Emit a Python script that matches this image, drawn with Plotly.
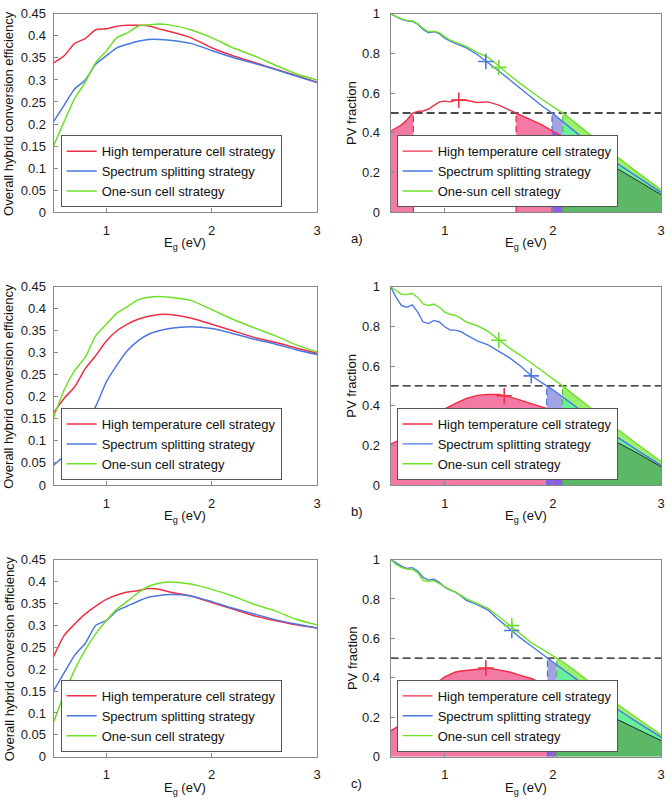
import numpy as np
import plotly.graph_objects as go

# ---------------- data ----------------
eg_eff = [0.5, 0.6, 0.7, 0.8, 0.9, 1.0, 1.1, 1.2, 1.3, 1.4, 1.5, 1.6, 1.8, 2.0, 2.2, 2.4, 2.6, 2.8, 3.0]

eff_a_ht = [0.339, 0.355, 0.383, 0.394, 0.414, 0.416, 0.422, 0.424, 0.424, 0.423, 0.416, 0.41, 0.396, 0.373, 0.355, 0.34, 0.325, 0.31, 0.295]
eff_a_ss = [0.206, 0.243, 0.28, 0.3, 0.336, 0.355, 0.373, 0.381, 0.388, 0.392, 0.392, 0.39, 0.383, 0.367, 0.351, 0.338, 0.324, 0.309, 0.294]
eff_a_os = [0.151, 0.206, 0.258, 0.295, 0.34, 0.366, 0.396, 0.407, 0.422, 0.425, 0.427, 0.425, 0.414, 0.396, 0.373, 0.355, 0.334, 0.314, 0.3]

eff_b_ht = [0.164, 0.197, 0.223, 0.264, 0.294, 0.327, 0.35, 0.365, 0.376, 0.383, 0.387, 0.387, 0.379, 0.365, 0.35, 0.335, 0.324, 0.311, 0.299]
eff_b_ss = [0.045, 0.067, 0.104, 0.141, 0.179, 0.234, 0.272, 0.305, 0.327, 0.342, 0.35, 0.355, 0.359, 0.355, 0.344, 0.331, 0.32, 0.307, 0.296]
eff_b_os = [0.153, 0.216, 0.26, 0.29, 0.339, 0.365, 0.39, 0.405, 0.42, 0.426, 0.428, 0.426, 0.419, 0.398, 0.376, 0.357, 0.339, 0.318, 0.302]

eff_c_ht = [0.229, 0.277, 0.303, 0.326, 0.344, 0.359, 0.369, 0.376, 0.379, 0.384, 0.382, 0.376, 0.367, 0.352, 0.337, 0.322, 0.311, 0.301, 0.294]
eff_c_ss = [0.151, 0.192, 0.232, 0.259, 0.3, 0.311, 0.333, 0.344, 0.355, 0.364, 0.368, 0.37, 0.367, 0.354, 0.339, 0.326, 0.313, 0.303, 0.294]
eff_c_os = [0.08, 0.143, 0.199, 0.244, 0.281, 0.311, 0.337, 0.355, 0.374, 0.389, 0.396, 0.399, 0.394, 0.382, 0.367, 0.348, 0.333, 0.314, 0.301]

eg_pv = [0.5, 0.55, 0.6, 0.65, 0.7, 0.75, 0.8, 0.85, 0.9, 0.95, 1.0, 1.05, 1.1, 1.15, 1.2,
         1.3, 1.4, 1.5, 1.6, 1.7, 1.8, 1.9, 2.0, 2.1, 2.2, 2.4, 2.6, 2.8, 3.0]

pv_a_ht = [0.408, 0.424, 0.44, 0.465, 0.498, 0.508, 0.51, 0.52, 0.54, 0.556, 0.56, 0.556, 0.564, 0.566, 0.564,
           0.553, 0.556, 0.54, 0.515, 0.49, 0.465, 0.44, 0.407, 0.38, 0.348, 0.284, 0.22, 0.156, 0.088]
pv_a_ss = [1.0, 0.985, 0.972, 0.965, 0.962, 0.948, 0.922, 0.905, 0.91, 0.9, 0.878, 0.862, 0.85, 0.84, 0.828,
           0.795, 0.755, 0.712, 0.668, 0.625, 0.58, 0.535, 0.497, 0.452, 0.408, 0.32, 0.243, 0.172, 0.1]
pv_a_os = [1.0, 0.986, 0.975, 0.967, 0.965, 0.95, 0.926, 0.91, 0.913, 0.905, 0.884, 0.868, 0.857, 0.848, 0.836,
           0.805, 0.782, 0.737, 0.69, 0.648, 0.607, 0.568, 0.532, 0.497, 0.454, 0.365, 0.276, 0.193, 0.112]

pv_b_ht = [0.206, 0.218, 0.23, 0.242, 0.255, 0.28, 0.304, 0.33, 0.354, 0.37, 0.382, 0.397, 0.411, 0.424, 0.436,
           0.452, 0.457, 0.456, 0.444, 0.428, 0.411, 0.395, 0.378, 0.358, 0.33, 0.272, 0.215, 0.155, 0.092]
pv_b_ss = [1.0, 0.946, 0.905, 0.896, 0.908, 0.872, 0.822, 0.814, 0.83, 0.822, 0.798, 0.781, 0.781, 0.773, 0.757,
           0.727, 0.707, 0.674, 0.641, 0.6, 0.551, 0.515, 0.48, 0.44, 0.4, 0.318, 0.24, 0.168, 0.1]
pv_b_os = [1.0, 0.98, 0.962, 0.96, 0.967, 0.946, 0.913, 0.905, 0.913, 0.896, 0.872, 0.86, 0.855, 0.84, 0.822,
           0.803, 0.776, 0.732, 0.69, 0.654, 0.617, 0.576, 0.535, 0.496, 0.452, 0.365, 0.28, 0.198, 0.118]

pv_c_ht = [0.132, 0.148, 0.165, 0.186, 0.207, 0.24, 0.273, 0.306, 0.339, 0.385, 0.405, 0.418, 0.43, 0.435, 0.438,
           0.441, 0.449, 0.441, 0.43, 0.413, 0.397, 0.372, 0.345, 0.318, 0.293, 0.24, 0.188, 0.135, 0.082]
pv_c_ss = [1.0, 0.982, 0.967, 0.955, 0.959, 0.942, 0.909, 0.896, 0.9, 0.884, 0.86, 0.845, 0.835, 0.815, 0.793,
           0.772, 0.744, 0.694, 0.648, 0.603, 0.562, 0.52, 0.48, 0.44, 0.4, 0.318, 0.24, 0.168, 0.1]
pv_c_os = [1.0, 0.975, 0.959, 0.952, 0.95, 0.934, 0.893, 0.89, 0.893, 0.878, 0.86, 0.848, 0.835, 0.82, 0.802,
           0.777, 0.752, 0.711, 0.668, 0.622, 0.579, 0.546, 0.512, 0.478, 0.438, 0.35, 0.265, 0.188, 0.112]

# optimum markers (ht, ss, os)
opt_a_eg = [1.13, 1.38, 1.5]
opt_a_pv = [0.565, 0.76, 0.73]
opt_b_eg = [1.55, 1.8, 1.5]
opt_b_pv = [0.45, 0.55, 0.73]
opt_c_eg = [1.38, 1.62, 1.62]
opt_c_pv = [0.45, 0.64, 0.665]

pv_threshold = 0.5

names = ["High temperature cell strategy", "Spectrum splitting strategy", "One-sun cell strategy"]
eff_ticks = [0, 0.05, 0.1, 0.15, 0.2, 0.25, 0.3, 0.35, 0.4, 0.45]
eff_ticktext = ["0", "0.05", "0.1", "0.15", "0.2", "0.25", "0.3", "0.35", "0.4", "0.45"]
pv_ticks = [0, 0.2, 0.4, 0.6, 0.8, 1]
pv_ticktext = ["0", "0.2", "0.4", "0.6", "0.8", "1"]
eg_ticks = [1, 2, 3]
panel_labels = ["a)", "b)", "c)"]

# ---------------- style ----------------
FONT = "Liberation Sans, Arial, sans-serif"
W, H = 672, 808
C_RED = "#ee2f45"
C_BLUE = "#4a78e0"
C_GREEN = "#6fe02a"
C_AX = "#8a8a8a"
F_PINK = "#f37aa4"
F_PURPLE = "#8c5cf0"
F_LAV = "#a3a3e3"
F_DGREEN = "#5cb866"
F_CGREEN = "#66f09a"
F_LGREEN = "#9cf070"

LEFT = (54, 319)
RIGHT = (393, 665)
ROWS = [(7, 209), (285, 487), (563, 764)]


def dom_x(a, b):
    return [a / W, b / W]


def dom_y(top, bot):
    return [1 - bot / H, 1 - top / H]


def crossings(x, y, level):
    out = []
    for i in range(len(x) - 1):
        y0, y1 = y[i] - level, y[i + 1] - level
        if y0 == 0:
            out.append(x[i])
        elif y0 * y1 < 0:
            out.append(x[i] + (x[i + 1] - x[i]) * (-y0) / (y1 - y0))
    return out


def seg(x, y, a, b):
    xs = [a] + [v for v in x if a < v < b] + [b]
    ys = list(np.interp(xs, x, y))
    return xs, ys


fig = go.Figure()
layout = {}
annotations = []

eff_sets = [(eff_a_ht, eff_a_ss, eff_a_os), (eff_b_ht, eff_b_ss, eff_b_os), (eff_c_ht, eff_c_ss, eff_c_os)]
pv_sets = [(pv_a_ht, pv_a_ss, pv_a_os), (pv_b_ht, pv_b_ss, pv_b_os), (pv_c_ht, pv_c_ss, pv_c_os)]
opt_sets = [(opt_a_eg, opt_a_pv), (opt_b_eg, opt_b_pv), (opt_c_eg, opt_c_pv)]
colors = [C_RED, C_BLUE, C_GREEN]

tickfont = dict(family=FONT, size=13, color="#1a1a1a")

for r in range(3):
    top, bot = ROWS[r]
    for side in range(2):
        k = 2 * r + side + 1
        sfx = "" if k == 1 else str(k)
        xa, ya = "x" + sfx, "y" + sfx
        leg = "legend" + sfx
        dx = dom_x(*(LEFT if side == 0 else RIGHT))
        layout["xaxis" + sfx] = dict(
            domain=dx, anchor=ya, range=[0.5, 3], tickvals=eg_ticks, ticktext=[str(t) for t in eg_ticks],
            ticks="inside", ticklen=4, tickcolor=C_AX, showline=True, linecolor=C_AX, linewidth=1,
            mirror=True, showgrid=False, zeroline=False, tickfont=tickfont, ticklabelstandoff=6)
        layout["yaxis" + sfx] = dict(
            domain=dom_y(top, bot), anchor=xa,
            range=[0, 0.45] if side == 0 else [0, 1],
            tickvals=eff_ticks if side == 0 else pv_ticks,
            ticktext=eff_ticktext if side == 0 else pv_ticktext,
            ticks="inside", ticklen=4, tickcolor=C_AX, showline=True, linecolor=C_AX, linewidth=1,
            mirror=True, showgrid=False, zeroline=False, tickfont=tickfont,
            ticklabelstandoff=4 if side == 0 else 7)
        layout[leg] = dict(
            x=(61 if side == 0 else 399) / W, y=1 - (bot - 5) / H, xanchor="left", yanchor="bottom",
            bgcolor="white", bordercolor="#555", borderwidth=1,
            font=dict(family=FONT, size=13, color="#111"), tracegroupgap=0)

        if side == 0:
            for s in range(3):
                fig.add_trace(go.Scatter(
                    x=eg_eff, y=eff_sets[r][s], mode="lines", name=names[s],
                    line=dict(color=colors[s], width=1.5, shape="spline", smoothing=0.6),
                    xaxis=xa, yaxis=ya, legend=leg))
            annotations.append(dict(
                text="Overall hybrid conversion efficiency", textangle=-90, x=9 / W, y=1 - (top + bot) / 2 / H,
                xref="paper", yref="paper", showarrow=False, xanchor="center", yanchor="middle",
                font=dict(family=FONT, size=13, color="#111")))
        else:
            ht, ss, os_ = pv_sets[r]
            xb = crossings(eg_pv, ss, pv_threshold)[0]
            xg = crossings(eg_pv, os_, pv_threshold)[0]
            xr = [c for c in crossings(eg_pv, ht, pv_threshold) if c < xb]
            # pink intervals (ht below threshold, before xb)
            bounds = [eg_pv[0]] + xr + [xb]
            intervals = []
            below = ht[0] < pv_threshold
            for i in range(len(bounds) - 1):
                if below:
                    intervals.append((bounds[i], bounds[i + 1]))
                below = not below

            def poly(a, b, upper, lower, color):
                xu, yu = seg(eg_pv, upper, a, b)
                if lower is None:
                    xl, yl = [b, a], [0, 0]
                else:
                    xl, yl = seg(eg_pv, lower, a, b)
                    xl, yl = xl[::-1], yl[::-1]
                fig.add_trace(go.Scatter(
                    x=xu + xl, y=yu + yl, mode="lines", fill="toself", fillcolor=color,
                    line=dict(width=0), hoverinfo="skip", showlegend=False, xaxis=xa, yaxis=ya))

            for (a, b) in intervals:
                poly(a, b, ht, None, F_PINK)
            poly(xb, xg, ht, None, F_PURPLE)
            poly(xb, xg, ss, ht, F_LAV)
            poly(xg, 3.0, ht, None, F_DGREEN)
            poly(xg, 3.0, ss, ht, F_CGREEN)
            poly(xg, 3.0, os_, ss, F_LGREEN)

            # vertical dashed boundaries
            for c in xr:
                fig.add_trace(go.Scatter(
                    x=[c, c], y=[0, pv_threshold], mode="lines", line=dict(color=C_RED, width=1.3, dash="6px,4px"),
                    hoverinfo="skip", showlegend=False, xaxis=xa, yaxis=ya))
            fig.add_trace(go.Scatter(
                x=[xb, xb], y=[0, pv_threshold], mode="lines", line=dict(color=C_BLUE, width=1.3, dash="6px,4px"),
                hoverinfo="skip", showlegend=False, xaxis=xa, yaxis=ya))
            fig.add_trace(go.Scatter(
                x=[xg, xg], y=[0, pv_threshold], mode="lines", line=dict(color="#4fb040", width=1.0, dash="6px,4px"),
                hoverinfo="skip", showlegend=False, xaxis=xa, yaxis=ya))
            # horizontal threshold
            fig.add_trace(go.Scatter(
                x=[0.5, 3.0], y=[pv_threshold, pv_threshold], mode="lines",
                line=dict(color="#111", width=1.3, dash="8px,4px"),
                hoverinfo="skip", showlegend=False, xaxis=xa, yaxis=ya))

            # curves
            xh, yh = seg(eg_pv, ht, eg_pv[0], xg)
            fig.add_trace(go.Scatter(x=xh, y=yh, mode="lines", name=names[0],
                                     line=dict(color=C_RED, width=1.4), xaxis=xa, yaxis=ya, legend=leg))
            xk, yk = seg(eg_pv, ht, xg, 3.0)
            fig.add_trace(go.Scatter(x=xk, y=yk, mode="lines", line=dict(color="#222", width=1.0),
                                     showlegend=False, xaxis=xa, yaxis=ya))
            fig.add_trace(go.Scatter(x=eg_pv, y=ss, mode="lines", name=names[1],
                                     line=dict(color=C_BLUE, width=1.4), xaxis=xa, yaxis=ya, legend=leg))
            fig.add_trace(go.Scatter(x=eg_pv, y=os_, mode="lines", name=names[2],
                                     line=dict(color=C_GREEN, width=1.4), xaxis=xa, yaxis=ya, legend=leg))
            oe, op = opt_sets[r]
            for s in range(3):
                fig.add_trace(go.Scatter(
                    x=[oe[s]], y=[op[s]], mode="markers",
                    marker=dict(symbol="cross-thin", size=11, line=dict(color=colors[s], width=1.6)),
                    showlegend=False, xaxis=xa, yaxis=ya))
            annotations.append(dict(
                text="PV fraction", textangle=-90, x=354 / W, y=1 - (top + bot) / 2 / H,
                xref="paper", yref="paper", showarrow=False, xanchor="center", yanchor="middle",
                font=dict(family=FONT, size=13, color="#111")))
            annotations.append(dict(
                text=panel_labels[r], x=351 / W, y=1 - (bot + 27) / H, xref="paper", yref="paper",
                showarrow=False, xanchor="left", yanchor="middle",
                font=dict(family=FONT, size=13, color="#111")))

        cx = (dx[0] + dx[1]) / 2
        annotations.append(dict(
            text="E<sub>g</sub> (eV)", x=cx, y=1 - (bot + 32) / H, xref="paper", yref="paper",
            showarrow=False, xanchor="center", yanchor="middle",
            font=dict(family=FONT, size=13, color="#111")))

fig.update_layout(
    width=W, height=H, margin=dict(l=0, r=0, t=0, b=0),
    paper_bgcolor="white", plot_bgcolor="white",
    font=dict(family=FONT, size=13, color="#111"),
    annotations=annotations, **layout)

fig.write_html("out.html")
